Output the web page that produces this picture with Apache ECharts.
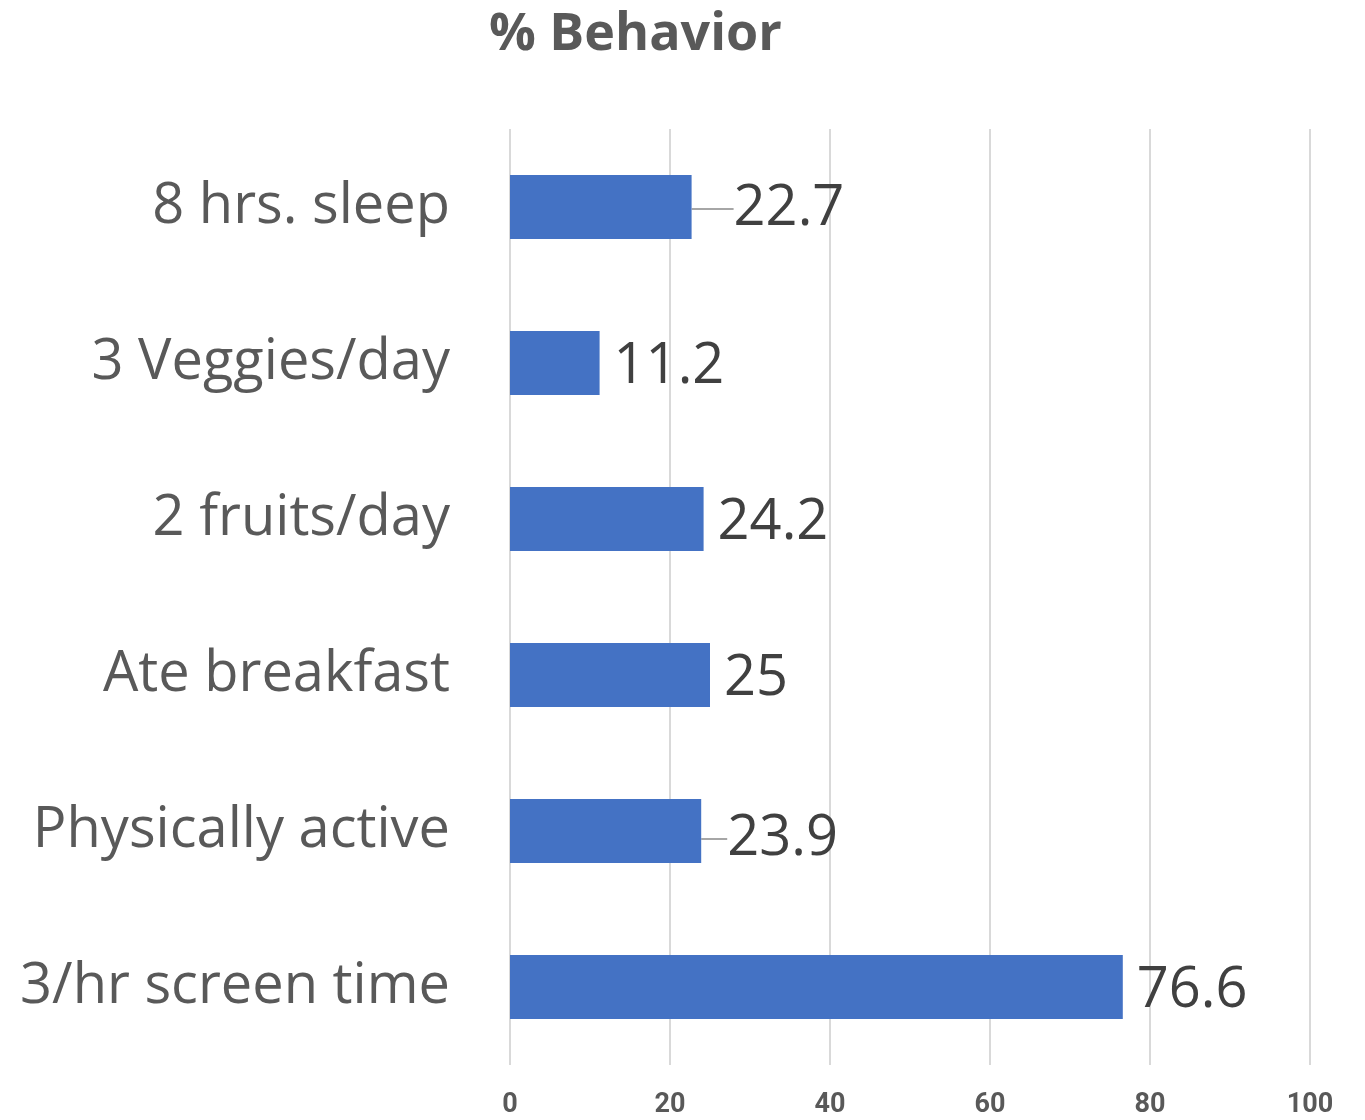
<!DOCTYPE html>
<html>
<head>
<meta charset="utf-8">
<title>% Behavior</title>
<script src="https://cdn.jsdelivr.net/npm/echarts@6/dist/echarts.min.js"></script>
<style>
  html, body { margin: 0; padding: 0; background: #fff; }
  #chart { width: 1365px; height: 1120px; }
</style>
</head>
<body>
<div id="chart"></div>
<script>
var categories = ['8 hrs. sleep', '3 Veggies/day', '2 fruits/day', 'Ate breakfast', 'Physically active', '3/hr screen time'];
var values = [22.7, 11.2, 24.2, 25, 23.9, 76.6];
var xTicks = { min: 0, max: 100, interval: 20 };
// labels that Excel pushed away from the bar end, drawn with a leader line
var movedLabels = [0, 4];

var chart = echarts.init(document.getElementById('chart'));
chart.setOption({
  animation: false,
  title: {
    text: '% Behavior',
    left: 484,
    top: 4,
    textStyle: { fontFamily: 'Open Sans', fontWeight: 'bold', fontSize: 52, color: '#595959' }
  },
  grid: { left: 510, right: 55, top: 129, bottom: 55, containLabel: false },
  xAxis: {
    type: 'value',
    min: xTicks.min, max: xTicks.max, interval: xTicks.interval,
    axisLine: { show: false },
    axisTick: { show: false },
    splitLine: { lineStyle: { color: '#d9d9d9', width: 2 } },
    axisLabel: {
      margin: 27,
      fontFamily: 'Roboto',
      fontWeight: 'bold', fontSize: 27, color: '#595959'
    }
  },
  yAxis: {
    type: 'category',
    data: categories,
    inverse: true,
    axisLine: { show: false },
    axisTick: { show: false },
    axisLabel: {
      margin: 60, fontFamily: 'Open Sans', fontSize: 56, color: '#595959',
      padding: [8, 0, 0, 0]
    }
  },
  series: [{
    type: 'bar',
    data: values.map(function (v, i) {
      return { value: v, labelLine: { show: movedLabels.indexOf(i) >= 0 } };
    }),
    barWidth: 64,
    itemStyle: { color: '#4472c4' },
    label: {
      show: true,
      position: 'right',
      distance: 14,
      fontFamily: 'Open Sans',
      fontSize: 56,
      color: '#404040'
    },
    labelLine: { show: false, lineStyle: { color: '#a6a6a6', width: 2 } },
    labelLayout: function (p) {
      if (p.dataIndex === 0) return { dx: 28, dy: 2 };
      if (p.dataIndex === 4) return { dx: 12, dy: 8 };
      return { dy: 4 };
    }
  }]
});
</script>
</body>
</html>
